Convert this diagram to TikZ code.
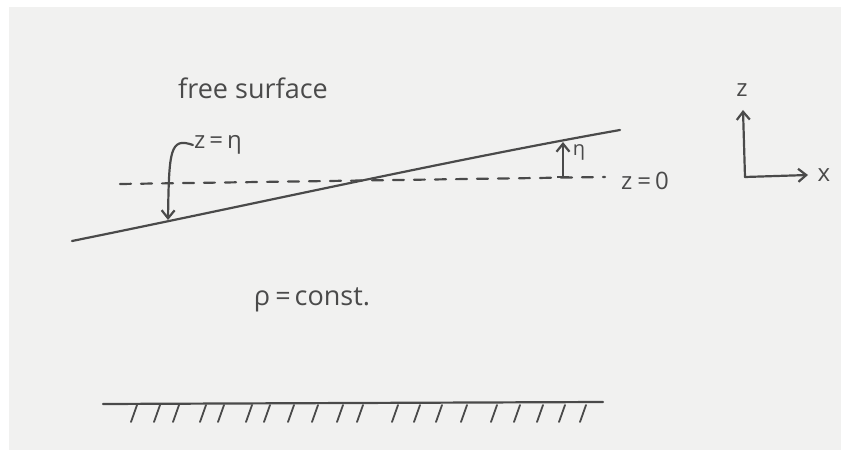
\documentclass[tikz,border=0pt]{standalone}
\usepackage{fontspec}
\setsansfont{Open Sans}
\usepackage{xcolor}
\usetikzlibrary{arrows.meta,positioning,calc}
\definecolor{paper}{HTML}{F1F1F0}
\definecolor{pen}{HTML}{4A4A4A}

\begin{document}
\begin{tikzpicture}[x=1pt,y=-1pt,
    lbl/.style={text=pen, font=\sffamily\fontsize{27}{30}\selectfont, inner sep=1pt},
    penline/.style={draw=pen, line width=2.2pt, line cap=round},
    arrow/.style={penline, -{Straight Barb[length=8pt,width=13pt]}}
]
    \useasboundingbox (0,0) rectangle (841,454);
    \fill[paper] (9,7) rectangle (841,450);

    % free surface and still level
    \draw[penline] (72,241) .. controls (250,205) and (450,160) .. (620,130);
    \draw[penline, dash pattern=on 11pt off 10pt] (120,184) -- (605,177);

    \node[lbl] (free) at (253,88) {free surface};
    \node[lbl, font=\sffamily\fontsize{24}{28}\selectfont] (zeta) at (218,145) {z\hspace{4pt}=\hspace{4pt}η};
    \node[lbl, right, font=\sffamily\fontsize{24}{28}\selectfont] (zzero) at (620,181) {z\hspace{5pt}=\hspace{4pt}0};
    \node[lbl] (rho) at (312,300) {ρ\hspace{5pt}=\hspace{4pt}const.};

    % z = eta pointer
    \coordinate (hit) at (168,220);
    \draw[arrow] (zeta.west) .. controls (170,137) and (169,150) .. (hit);

    % elevation eta
    \coordinate (eta0) at (563,178);
    \coordinate (eta1) at (563,142);
    \draw[arrow, {Bar[width=12pt]}-{Straight Barb[length=8pt,width=13pt]}] (eta0) -- (eta1);
    \node[lbl, font=\sffamily\fontsize{20}{24}\selectfont] (eta) at (579,152) {η};

    % axes
    \coordinate (orig) at (745,177);
    \coordinate (ztip) at (743,110);
    \coordinate (xtip) at (808,175);
    \node[lbl, font=\sffamily\fontsize{24}{28}\selectfont] (zax) at (742,90) {z};
    \node[lbl, font=\sffamily\fontsize{24}{28}\selectfont] (xax) at (824,175) {x};
    \draw[arrow] (orig) -- (ztip);
    \draw[arrow] (orig) -- (xtip);

    % bottom
    \coordinate (bedL) at (103,404);
    \coordinate (bedR) at (603,402);
    \draw[penline] (bedL) -- (bedR);
    \foreach \x in {137,160,179,206,224,252,270,294,318,343,363,398,420,442,467,497,520,543,565,586}
        \draw[penline, line width=1.8pt] (\x,405) -- ++(-6,17);
\end{tikzpicture}
\end{document}
